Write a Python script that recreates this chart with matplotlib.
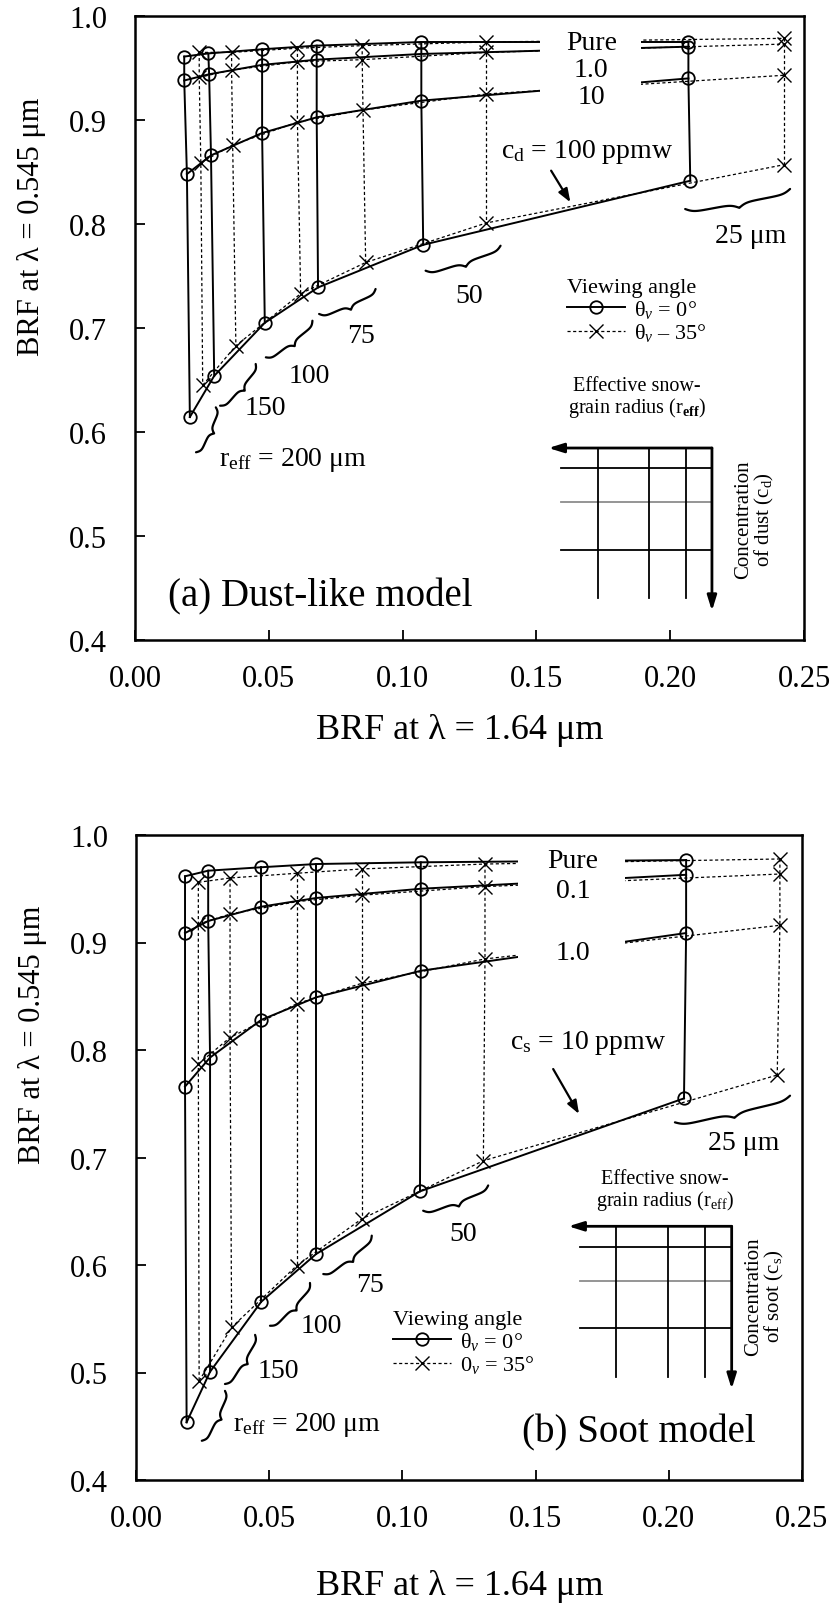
import numpy as np
import matplotlib
matplotlib.use('Agg')
import matplotlib.pyplot as plt
from matplotlib.patches import Rectangle

plt.rcParams['font.family'] = ['Liberation Serif', 'DejaVu Serif']
plt.rcParams['mathtext.fontset'] = 'custom'
plt.rcParams['mathtext.rm'] = 'Liberation Serif'
plt.rcParams['mathtext.it'] = 'Liberation Serif:italic'
plt.rcParams['mathtext.bf'] = 'Liberation Serif:bold'

# snow-grain radius (um), one column per value
r_eff = [200, 150, 100, 75, 50, 25]

# (a) dust-like model: rows are Pure, 1.0, 10, 100 ppmw
dust_conc = ['Pure', '1.0', '10', '100']
dust_x0 = [[0.0184, 0.0274, 0.0475, 0.0679, 0.1070, 0.2068],
           [0.0184, 0.0277, 0.0475, 0.0679, 0.1070, 0.2068],
           [0.0194, 0.0284, 0.0475, 0.0679, 0.1070, 0.2068],
           [0.0205, 0.0296, 0.0485, 0.0684, 0.1077, 0.2075]]
dust_y0 = [[0.9610, 0.9640, 0.9680, 0.9715, 0.9750, 0.9750],
           [0.9380, 0.9440, 0.9530, 0.9580, 0.9635, 0.9705],
           [0.8480, 0.8660, 0.8875, 0.9026, 0.9186, 0.9400],
           [0.6144, 0.6540, 0.7050, 0.7390, 0.7800, 0.8416]]
dust_x35 = [[0.0240, 0.0361, 0.0607, 0.0849, 0.1313, 0.2425],
            [0.0240, 0.0361, 0.0607, 0.0849, 0.1313, 0.2425],
            [0.0246, 0.0365, 0.0607, 0.0852, 0.1313, 0.2425],
            [0.0253, 0.0377, 0.0619, 0.0862, 0.1313, 0.2425]]
dust_y35 = [[0.9650, 0.9650, 0.9690, 0.9715, 0.9750, 0.9785],
            [0.9410, 0.9480, 0.9560, 0.9580, 0.9650, 0.9730],
            [0.8590, 0.8760, 0.8980, 0.9096, 0.9250, 0.9430],
            [0.6450, 0.6830, 0.7330, 0.7630, 0.8010, 0.8570]]

# (b) soot model: rows are Pure, 0.1, 1.0, 10 ppmw
soot_conc = ['Pure', '0.1', '1.0', '10']
soot_x0 = [[0.0184, 0.0271, 0.0470, 0.0676, 0.1069, 0.2065],
           [0.0184, 0.0271, 0.0470, 0.0676, 0.1069, 0.2065],
           [0.0184, 0.0278, 0.0470, 0.0676, 0.1069, 0.2065],
           [0.0190, 0.0278, 0.0470, 0.0676, 0.1066, 0.2057]]
soot_y0 = [[0.9616, 0.9668, 0.9700, 0.9730, 0.9746, 0.9767],
           [0.9088, 0.9200, 0.9333, 0.9414, 0.9500, 0.9630],
           [0.7660, 0.7930, 0.8280, 0.8490, 0.8737, 0.9088],
           [0.4537, 0.5007, 0.5658, 0.6102, 0.6685, 0.7550]]
soot_x35 = [[0.0234, 0.0353, 0.0603, 0.0847, 0.1310, 0.2417],
            [0.0234, 0.0353, 0.0603, 0.0847, 0.1310, 0.2417],
            [0.0234, 0.0353, 0.0603, 0.0847, 0.1310, 0.2417],
            [0.0237, 0.0359, 0.0603, 0.0847, 0.1304, 0.2407]]
soot_y35 = [[0.9560, 0.9600, 0.9644, 0.9684, 0.9730, 0.9777],
            [0.9170, 0.9265, 0.9380, 0.9440, 0.9520, 0.9637],
            [0.7870, 0.8116, 0.8430, 0.8620, 0.8847, 0.9160],
            [0.4922, 0.5420, 0.5993, 0.6428, 0.6970, 0.7767]]

DASH = (0, (2.5, 2.0))


def draw_grid(ax, x0, y0, x35, y35):
    x0, y0, x35, y35 = map(np.array, (x0, y0, x35, y35))
    for i in range(len(x0)):
        h0, = ax.plot(x0[i], y0[i], color='k', lw=1.4, marker='o', ms=9,
                      mfc='none', mew=1.3, zorder=3)
        h35, = ax.plot(x35[i], y35[i], color='k', lw=0.9, ls=DASH, marker='x',
                       ms=10, mew=1.0, zorder=2)
    for j in range(x0.shape[1]):
        ax.plot(x0[:, j], y0[:, j], color='k', lw=1.4, zorder=3)
        ax.plot(x35[:, j], y35[:, j], color='k', lw=0.9, ls=DASH, zorder=2)
    return h0, h35


def curly_brace(ax, p1, p2, depth=9.0, lw=1.6):
    # brace drawn in pixel space, tip bulging to the right of p1 -> p2
    d = ax.transData.transform([p1, p2])
    v = d[1] - d[0]
    u = v / np.hypot(*v)
    n = np.array([u[1], -u[0]])
    s = np.linspace(0, 0.5, 60)
    beta = 28.0
    half = 1 / (1 + np.exp(-beta * s)) + 1 / (1 + np.exp(-beta * (s - 0.5))) - 0.5
    along = np.concatenate([s, 1 - s[::-1]])
    off = np.concatenate([half, half[::-1]]) * depth
    pts = d[0] + along[:, None] * v + off[:, None] * n
    pts = ax.transData.inverted().transform(pts)
    ax.plot(pts[:, 0], pts[:, 1], color='k', lw=lw, solid_capstyle='round', zorder=3)


def schematic(ax, y_top, x_right, x_tip, y_h, x_hstart, x_v, y_vbot, y_tip):
    arr = dict(arrowstyle='-|>,head_length=0.9,head_width=0.28', lw=2.0,
               color='k', shrinkA=0, shrinkB=0)
    ax.annotate('', xy=(x_tip, y_top), xytext=(x_right, y_top), arrowprops=arr)
    ax.annotate('', xy=(x_right, y_tip), xytext=(x_right, y_top), arrowprops=arr)
    for k, yy in enumerate(y_h):
        ax.plot([x_hstart, x_right], [yy, yy], color='0.55' if k == 1 else 'k',
                lw=1.3)
    for xx in x_v:
        ax.plot([xx, xx], [y_top, y_vbot], color='k', lw=1.3)


def style_axes(ax, ylab_y, xlab_y):
    ax.set_xlim(0, 0.25)
    ax.set_ylim(0.4, 1.0)
    ax.set_xticks(np.arange(0, 0.251, 0.05))
    ax.set_yticks(np.arange(0.4, 1.001, 0.1))
    ax.set_xticklabels(['%.2f' % t for t in np.arange(0, 0.251, 0.05)])
    ax.set_yticklabels(['%.1f' % t for t in np.arange(0.4, 1.001, 0.1)])
    ax.tick_params(direction='in', length=7, width=1.3, labelsize=22)
    ax.tick_params(axis='x', pad=17)
    ax.tick_params(axis='y', pad=20)
    for sp in ax.spines.values():
        sp.set_linewidth(1.8)
    ax.set_xlabel('BRF at λ = 1.64 μm', fontsize=26)
    ax.set_ylabel('BRF at λ = 0.545 μm', fontsize=22)
    ax.xaxis.set_label_coords(0.486, xlab_y)
    ax.xaxis.label.set_va('center')
    ax.yaxis.set_label_coords(-0.155, ylab_y)
    ax.yaxis.label.set_va('center')


fig = plt.figure(figsize=(8.33, 16.06), dpi=100)
ax_a = fig.add_axes([135 / 833, 1 - 641 / 1606, 669 / 833, 624 / 1606])
ax_b = fig.add_axes([136 / 833, 1 - 1481 / 1606, 666 / 833, 645 / 1606])
style_axes(ax_a, 0.664, -0.143)
style_axes(ax_b, 0.691, -0.163)

FS = 20

# ---------------- (a) dust-like model ----------------
ax = ax_a
h0, h35 = draw_grid(ax, dust_x0, dust_y0, dust_x35, dust_y35)
ax.add_patch(Rectangle((0.1515, 0.905), 0.0375, 0.09, facecolor='white',
                       edgecolor='none', zorder=4))
for lab, yy in zip(dust_conc[:3], [0.9747, 0.949, 0.923]):
    ax.text(0.1705, yy, lab, fontsize=FS, ha='center', va='center', zorder=5)
ax.text(0.169, 0.8705, r'c$_{\rm d}$ = 100 ppmw', fontsize=FS, ha='center', va='center')
ax.annotate('', xy=(0.1627, 0.8209), xytext=(0.1555, 0.8513),
            arrowprops=dict(arrowstyle='-|>,head_length=0.8,head_width=0.3',
                            lw=1.6, color='k', shrinkA=0, shrinkB=0))
braces_a = [((0.0228, 0.5805), (0.0302, 0.6237)), ((0.0318, 0.6253), (0.0451, 0.6654)),
            ((0.0489, 0.6718), (0.0663, 0.7070)), ((0.0688, 0.7135), (0.0899, 0.7375)),
            ((0.1086, 0.7551), (0.1366, 0.7791)), ((0.2056, 0.8144), (0.2448, 0.8337))]
for p1, p2 in braces_a:
    curly_brace(ax, p1, p2)
ax.text(0.0315, 0.574, r'r$_{\rm eff}$ = 200 μm', fontsize=FS, ha='left', va='center')
for lab, (xx, yy) in zip(['150', '100', '75', '50'],
                         [(0.0489, 0.6237), (0.065, 0.6548), (0.0843, 0.6926), (0.1247, 0.731)]):
    ax.text(xx, yy, lab, fontsize=FS, ha='center', va='center')
ax.text(0.2299, 0.7888, '25 μm', fontsize=FS, ha='center', va='center')

leg = ax.legend([h0, h35], ['θ$_v$ = 0°', 'θ$_v$ – 35°'], title='Viewing angle',
                loc='upper left', bbox_to_anchor=(0.1615, 0.748),
                bbox_transform=ax.transData, frameon=False, alignment='left',
                borderpad=0, borderaxespad=0, handlelength=2.6, handletextpad=0.4,
                labelspacing=0.05, fontsize=16, title_fontsize=16)

schematic(ax, 0.5846, 0.2156, 0.1545, [0.5654, 0.533, 0.4865], 0.1593,
          [0.1729, 0.1922, 0.206], 0.4404, 0.428)
ax.text(0.1876, 0.6334, 'Effective snow-\ngrain radius (r$_{\\bf eff}$)', fontsize=14.5,
        ha='center', va='center', linespacing=1.0)
ax.text(0.2317, 0.5163, 'Concentration\nof dust (c$_{\\rm d}$)', fontsize=15,
        rotation=90, ha='center', va='center', multialignment='center', linespacing=1.0)
ax.text(0.0122, 0.4426, '(a) Dust-like model', fontsize=28, ha='left', va='center')

# ---------------- (b) soot model ----------------
ax = ax_b
h0, h35 = draw_grid(ax, soot_x0, soot_y0, soot_x35, soot_y35)
ax.add_patch(Rectangle((0.1434, 0.87), 0.0402, 0.125, facecolor='white',
                       edgecolor='none', zorder=4))
for lab, yy in zip(soot_conc[:3], [0.976, 0.948, 0.8907]):
    ax.text(0.164, yy, lab, fontsize=FS, ha='center', va='center', zorder=5)
ax.text(0.1698, 0.807, r'c$_{\rm s}$ = 10 ppmw', fontsize=FS, ha='center', va='center')
ax.annotate('', xy=(0.1663, 0.7405), xytext=(0.1566, 0.7823),
            arrowprops=dict(arrowstyle='-|>,head_length=0.8,head_width=0.3',
                            lw=1.6, color='k', shrinkA=0, shrinkB=0))
braces_b = [((0.0247, 0.4365), (0.0334, 0.4829)), ((0.0334, 0.4893), (0.0447, 0.535)),
            ((0.0503, 0.5435), (0.0653, 0.5833)), ((0.0703, 0.5916), (0.0885, 0.6273)),
            ((0.1078, 0.6505), (0.1322, 0.674)), ((0.2023, 0.7327), (0.2455, 0.7575))]
for p1, p2 in braces_b:
    curly_brace(ax, p1, p2)
ax.text(0.0365, 0.4521, r'r$_{\rm eff}$ = 200 μm', fontsize=FS, ha='left', va='center')
for lab, (xx, yy) in zip(['150', '100', '75', '50'],
                         [(0.0534, 0.5016), (0.0697, 0.5435), (0.0878, 0.5823), (0.1229, 0.629)]):
    ax.text(xx, yy, lab, fontsize=FS, ha='center', va='center')
ax.text(0.228, 0.714, '25 μm', fontsize=FS, ha='center', va='center')

leg = ax.legend([h0, h35], ['θ$_v$ = 0°', '0$_v$ = 35°'], title='Viewing angle',
                loc='upper left', bbox_to_anchor=(0.0966, 0.558),
                bbox_transform=ax.transData, frameon=False, alignment='left',
                borderpad=0, borderaxespad=0, handlelength=2.6, handletextpad=0.4,
                labelspacing=0.05, fontsize=16, title_fontsize=16)

schematic(ax, 0.636, 0.2236, 0.1623, [0.6165, 0.5854, 0.5411], 0.1667,
          [0.1802, 0.1998, 0.2136], 0.4961, 0.4847)
ax.text(0.1986, 0.6691, 'Effective snow-\ngrain radius (r$_{\\rm eff}$)', fontsize=14.5,
        ha='center', va='center', linespacing=1.0)
ax.text(0.2361, 0.5714, 'Concentration\nof soot (c$_{\\rm s}$)', fontsize=15,
        rotation=90, ha='center', va='center', multialignment='center', linespacing=1.0)
ax.text(0.1448, 0.4444, '(b) Soot model', fontsize=28, ha='left', va='center')

fig.savefig('out.png', dpi=100)
